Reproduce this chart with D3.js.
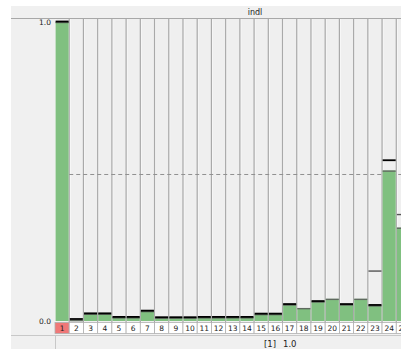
<!DOCTYPE html>
<html>
<head>
<meta charset="utf-8">
<script src="https://cdn.jsdelivr.net/npm/d3@7"></script>
<style>
  html, body { margin: 0; padding: 0; background: #ffffff; }
  svg { display: block; }
  text { font-family: "DejaVu Sans", "Liberation Sans", sans-serif; }
</style>
</head>
<body>
<svg id="chart" width="401" height="349"></svg>
<script>
// Columns of the histogram view
const categories = ["1","2","3","4","5","6","7","8","9","10","11","12","13","14","15","16","17","18","19","20","21","22","23","24","25"];
// Green bar heights
const barValues = [1.0, 0.003, 0.024, 0.024, 0.012, 0.012, 0.033, 0.011, 0.011, 0.011,
                   0.012, 0.012, 0.012, 0.012, 0.023, 0.023, 0.055, 0.043, 0.065, 0.074,
                   0.055, 0.074, 0.052, 0.503, 0.312];
// Black marker per column (null where none)
const markValues = [1.0, 0.005, 0.024, 0.024, 0.012, 0.012, 0.033, 0.011, 0.011, 0.011,
                    0.012, 0.012, 0.012, 0.012, 0.023, 0.023, 0.055, null, 0.065, null,
                    0.055, null, 0.052, 0.536, null];
// Grey limit lines per column
const limitValues = [null, null, null, null, null, null, null, null, null, null,
                     null, null, null, null, null, null, null, null, null, null,
                     null, null, 0.167, null, 0.356];
const referenceLevel = 0.49;
const yTicks = [0, 1];
const titleText = "indl";
const statusText = ["[1]", "1.0"];
const selected = "1";

const svg = d3.select("#chart");
const W = 401, H = 349;

const x = d3.scaleBand().domain(categories).range([55, 55 + categories.length * 14.22]).padding(0);
const y = d3.scaleLinear().domain([0, 1]).range([321, 22]);

// panel background
svg.append("rect").attr("x", 11).attr("y", 6).attr("width", W - 11).attr("height", H - 6).attr("fill", "#f0f0f0");

// header band
svg.append("line").attr("x1", 11).attr("x2", W).attr("y1", 18.5).attr("y2", 18.5)
  .attr("stroke", "#a8a8a8").attr("stroke-width", 1);
svg.append("text").attr("x", 255).attr("y", 15).attr("text-anchor", "middle")
  .attr("font-size", 8).attr("fill", "#222").text(titleText);

const plot = svg.append("g");

// column backgrounds
plot.selectAll("rect.col").data(categories).join("rect")
  .attr("class", "col")
  .attr("x", d => x(d)).attr("y", 19).attr("width", x.bandwidth()).attr("height", 304)
  .attr("fill", "#efefef");

// light inner edge of each column
plot.selectAll("line.inner").data(categories).join("line")
  .attr("class", "inner")
  .attr("x1", d => x(d) + 1).attr("x2", d => x(d) + 1)
  .attr("y1", 19).attr("y2", 323)
  .attr("stroke", "#f8f8f8").attr("stroke-width", 1);

// column separators
plot.selectAll("line.sep").data(categories).join("line")
  .attr("class", "sep")
  .attr("x1", d => x(d) + x.bandwidth()).attr("x2", d => x(d) + x.bandwidth())
  .attr("y1", 19).attr("y2", 323)
  .attr("stroke", "#a9a9a9").attr("stroke-width", 1.2);

// reference dashed line, behind the bars
plot.append("line")
  .attr("x1", x(categories[1])).attr("x2", W)
  .attr("y1", y(referenceLevel)).attr("y2", y(referenceLevel))
  .attr("stroke", "#909090").attr("stroke-width", 1).attr("stroke-dasharray", "4,3");

const rows = categories.map((c, i) => ({ c, v: barValues[i], m: markValues[i], l: limitValues[i] }));

// green bars
plot.selectAll("rect.bar").data(rows).join("rect")
  .attr("class", "bar")
  .attr("x", d => x(d.c) + 0.6).attr("width", x.bandwidth() - 1.2)
  .attr("y", d => y(d.v)).attr("height", d => y(0) - y(d.v))
  .attr("fill", "#80c080");

// dark cap on each bar
plot.selectAll("line.cap").data(rows).join("line")
  .attr("class", "cap")
  .attr("x1", d => x(d.c) + 0.6).attr("x2", d => x(d.c) + x.bandwidth() - 0.6)
  .attr("y1", d => y(d.v) + 0.5).attr("y2", d => y(d.v) + 0.5)
  .attr("stroke", "#5f6a5f").attr("stroke-width", 1.4);

// grey limit lines
plot.selectAll("line.limit").data(rows.filter(d => d.l != null)).join("line")
  .attr("class", "limit")
  .attr("x1", d => x(d.c) + 0.6).attr("x2", d => x(d.c) + x.bandwidth() - 0.6)
  .attr("y1", d => y(d.l)).attr("y2", d => y(d.l))
  .attr("stroke", "#555").attr("stroke-width", 1.4);

// black markers
plot.selectAll("line.mark").data(rows.filter(d => d.m != null)).join("line")
  .attr("class", "mark")
  .attr("x1", d => x(d.c) + 0.6).attr("x2", d => x(d.c) + x.bandwidth() - 0.6)
  .attr("y1", d => y(d.m) - 0.5).attr("y2", d => y(d.m) - 0.5)
  .attr("stroke", "#000").attr("stroke-width", 1.8);

// category label row
const lab = plot.append("g");
lab.selectAll("rect").data(categories).join("rect")
  .attr("x", d => x(d)).attr("y", 322.5).attr("width", x.bandwidth()).attr("height", 11)
  .attr("fill", d => d === selected ? "#f07878" : "#ffffff")
  .attr("stroke", "#b0b0b0").attr("stroke-width", 0.8);
lab.selectAll("text").data(categories).join("text")
  .attr("x", d => x(d) + x.bandwidth() / 2).attr("y", 331.3)
  .attr("text-anchor", "middle").attr("font-size", 7.5).attr("fill", "#222")
  .text(d => d);

// y labels
svg.selectAll("text.ytick").data(yTicks).join("text")
  .attr("class", "ytick")
  .attr("x", 51).attr("y", d => y(d) + 3)
  .attr("text-anchor", "end").attr("font-size", 7.5).attr("fill", "#222")
  .text(d => d.toFixed(1));

// status bar
svg.append("line").attr("x1", 11).attr("x2", W).attr("y1", 335.5).attr("y2", 335.5)
  .attr("stroke", "#c8c8c8");
svg.append("line").attr("x1", 55.5).attr("x2", 55.5).attr("y1", 336).attr("y2", H)
  .attr("stroke", "#c8c8c8");
svg.append("text").attr("x", 264).attr("y", 347).attr("font-size", 8.5).attr("fill", "#222")
  .text(statusText[0]);
svg.append("text").attr("x", 283).attr("y", 347).attr("font-size", 8.5).attr("fill", "#222")
  .text(statusText[1]);
</script>
</body>
</html>
